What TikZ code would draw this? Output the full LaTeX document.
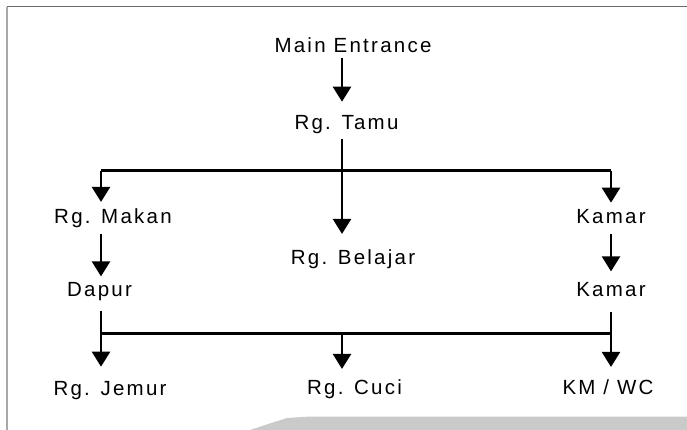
\documentclass[tikz,border=0pt]{standalone}
\usepackage{fontspec}
\setmainfont[LetterSpace=11]{Liberation Sans}
\usetikzlibrary{arrows.meta}
\definecolor{bandgray}{HTML}{CACACA}
\definecolor{framegray}{HTML}{6A6A6A}
\definecolor{edgegray}{HTML}{A8A8A8}
\begin{document}
\begin{tikzpicture}[x=1pt,y=-1pt,
  room/.style={anchor=base,inner sep=0pt,font=\fontsize{20.5}{24}\selectfont},
  flow/.style={line width=2.4pt,-{Triangle[width=18pt,length=15pt]}},
  bar/.style={line width=2.4pt},
  topbar/.style={line width=3pt}]
\useasboundingbox (0,0) rectangle (687,430);
% page frame and shaded band
\fill[bandgray] (250,430) -- (268,424) -- (287,418) -- (307,416.7) -- (687,416.7) -- (687,430) -- cycle;
\draw[framegray,line width=1pt] (7,6.7) -- (687,6.7);
\draw[edgegray,line width=1.4pt] (7,6.7) -- (7,430);

% column positions
\coordinate (cl) at (101,0);
\coordinate (cm) at (342,0);
\coordinate (cr) at (611,0);

% rooms
\node[room] (me)  at (353,52.7)  {Main Entrance};
\node[room] (tamu) at (346.5,130) {Rg. Tamu};
\node[room] (makan) at (113,224) {Rg. Makan};
\node[room] (kamar1) at (611,224) {Kamar};
\node[room] (belajar) at (353,264) {Rg. Belajar};
\node[room] (dapur) at (99.5,296.7) {Dapur};
\node[room] (kamar2) at (611,296.7) {Kamar};
\node[room] (jemur) at (110,395) {Rg. Jemur};
\node[room] (cuci) at (354.5,394) {Rg. Cuci};
\node[room] (kmwc) at (608,394) {KM / WC};

% junction points
\coordinate (jt) at (342,170.7);
\coordinate (jb) at (342,333.3);

% entrance to guest room
\draw[flow] ([yshift=-5pt]me.south -| cm) -- ([yshift=14pt]tamu.north -| cm);
% guest room to study room
\draw[flow] ([yshift=-5pt]tamu.south -| cm) -- ([yshift=15pt]belajar.north -| cm);
% upper distribution bar
\draw[topbar] (jt -| cl) -- (jt -| cr);
\draw[flow] (jt -| cl) -- ([yshift=7pt]makan.north -| cl);
\draw[flow] (jt -| cr) -- ([yshift=7pt]kamar1.north -| cr);
% second row
\draw[flow] ([yshift=-6pt]makan.south -| cl) -- ([yshift=6pt]dapur.north -| cl);
\draw[flow] ([yshift=-10pt]kamar1.south -| cr) -- ([yshift=11pt]kamar2.north -| cr);
% lower collecting bar
\draw[bar] ([yshift=-10pt]dapur.south -| cl) -- (jb -| cl) -- (jb -| cr) -- ([yshift=-15pt]kamar2.south -| cr);
\draw[flow] (jb -| cl) -- ([yshift=14pt]jemur.north -| cl);
\draw[flow] (jb) -- ([yshift=10pt]cuci.north -| cm);
\draw[flow] (jb -| cr) -- ([yshift=12pt]kmwc.north -| cr);
\end{tikzpicture}
\end{document}
